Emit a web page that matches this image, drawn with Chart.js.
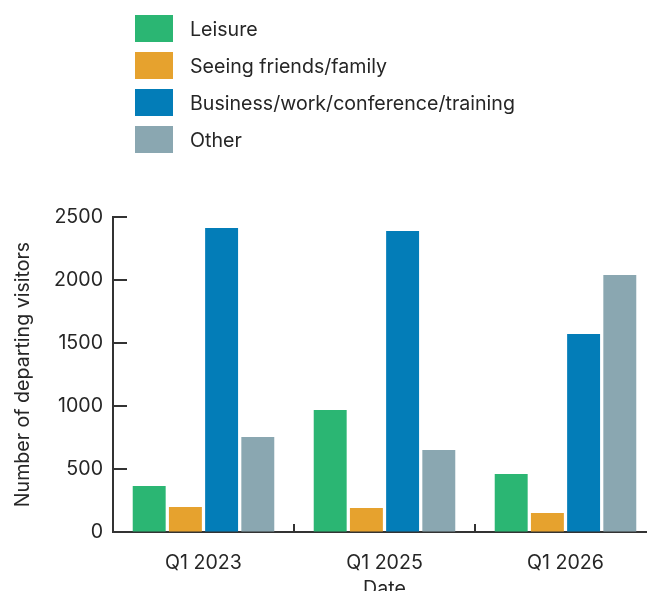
<!DOCTYPE html>
<html>
<head>
<meta charset="utf-8">
<script src="https://cdn.jsdelivr.net/npm/chart.js@4/dist/chart.umd.min.js"></script>
<style>
  html, body { margin: 0; padding: 0; background: #fff; overflow: hidden; }
  #wrap { position: relative; width: 660px; height: 600px; }
  #legend { position: absolute; left: 135px; top: 15px; font-family: Inter, sans-serif; font-size: 19.6px; color: #262626; }
  .item { display: flex; align-items: center; height: 27px; margin-bottom: 10px; }
  .swatch { width: 38px; height: 27px; margin-right: 17px; flex: none; }
</style>
</head>
<body>
<div id="wrap">
  <canvas id="chart" width="660" height="600"></canvas>
  <div id="legend"></div>
</div>
<script>
// Chart data
const categories = ['Q1 2023', 'Q1 2025', 'Q1 2026'];
const seriesNames = ['Leisure', 'Seeing friends/family', 'Business/work/conference/training', 'Other'];
const leisure = [365, 968, 460];
const friendsFamily = [199, 190, 151];
const business = [2413, 2389, 1571];
const other = [754, 651, 2040];
const yTicks = [0, 500, 1000, 1500, 2000, 2500];

const colors = ['#2BB673', '#E6A22E', '#037DB8', '#8AA7B1'];
const textColor = '#262626';
const axisColor = '#333333';
const fontFamily = 'Inter, sans-serif';
const fontSize = 19.6;

// Inward tick marks, like the original
const inwardTicks = {
  id: 'inwardTicks',
  afterDraw(chart) {
    const { ctx, chartArea, scales } = chart;
    ctx.save();
    ctx.strokeStyle = axisColor;
    ctx.lineWidth = 2;
    ctx.beginPath();
    scales.y.ticks.forEach(t => {
      const y = Math.round(scales.y.getPixelForValue(t.value));
      ctx.moveTo(chartArea.left, y);
      ctx.lineTo(chartArea.left + 14, y);
    });
    const half = (scales.x.getPixelForTick(1) - scales.x.getPixelForTick(0)) / 2;
    for (let i = 1; i < categories.length; i++) {
      const x = Math.round(scales.x.getPixelForTick(i) - half);
      ctx.moveTo(x, chartArea.bottom);
      ctx.lineTo(x, chartArea.bottom - 8);
    }
    ctx.stroke();
    ctx.restore();
  }
};

const values = [leisure, friendsFamily, business, other];

const chart = new Chart(document.getElementById('chart'), {
  type: 'bar',
  data: {
    labels: categories,
    datasets: seriesNames.map((name, i) => ({
      label: name,
      data: values[i],
      backgroundColor: colors[i],
      borderWidth: 0,
      categoryPercentage: 0.8,
      barPercentage: 0.91
    }))
  },
  options: {
    responsive: false,
    animation: false,
    layout: { padding: { top: 217, right: 4, left: 0, bottom: 0 } },
    plugins: {
      legend: { display: false },
      tooltip: { enabled: false }
    },
    scales: {
      x: {
        afterFit: s => { s.height = 68; },
        grid: { drawOnChartArea: false, drawTicks: false },
        border: { color: axisColor, width: 2 },
        ticks: { color: textColor, padding: 19, font: { family: fontFamily, size: fontSize } },
        title: {
          display: true,
          text: 'Date',
          color: textColor,
          padding: { top: 0, bottom: -1 },
          font: { family: fontFamily, size: fontSize }
        }
      },
      y: {
        min: 0,
        max: 2500,
        afterFit: s => { s.width = 113; },
        afterBuildTicks: s => { s.ticks = yTicks.map(v => ({ value: v })); },
        grid: { drawOnChartArea: false, drawTicks: false },
        border: { color: axisColor, width: 2 },
        ticks: {
          color: textColor,
          padding: 10,
          font: { family: fontFamily, size: fontSize },
          callback: v => String(v)
        },
        title: {
          display: true,
          text: 'Number of departing visitors',
          color: textColor,
          padding: { top: 11, bottom: 0 },
          font: { family: fontFamily, size: fontSize }
        }
      }
    }
  },
  plugins: [inwardTicks]
});

// HTML legend built from the chart's datasets
const legendEl = document.getElementById('legend');
chart.data.datasets.forEach(ds => {
  const item = document.createElement('div');
  item.className = 'item';
  const sw = document.createElement('div');
  sw.className = 'swatch';
  sw.style.background = ds.backgroundColor;
  const label = document.createElement('span');
  label.textContent = ds.label;
  item.appendChild(sw);
  item.appendChild(label);
  legendEl.appendChild(item);
});
</script>
</body>
</html>
